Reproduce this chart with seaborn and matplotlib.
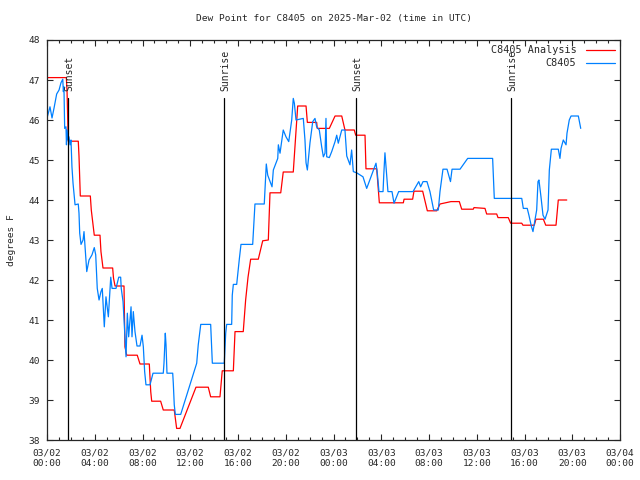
import matplotlib
matplotlib.use("Agg")
import pandas as pd
import seaborn as sns
import matplotlib.pyplot as plt
from matplotlib.ticker import MultipleLocator

# hours since 2025-03-02 00:00 UTC, dew point in degrees F
analysis_hours = [0.0, 1.62, 1.68, 1.78, 2.62, 2.68, 2.79, 3.63, 3.71, 3.96, 4.44, 4.52, 4.69,
                  5.50, 5.57, 5.70, 6.45, 6.53, 6.68, 7.56, 7.79, 8.57, 8.69, 8.77, 9.52, 9.74,
                  10.66, 10.86, 11.14, 12.48, 13.51, 13.71, 14.49, 14.68, 15.61, 15.75, 16.44,
                  16.64, 16.84, 17.06, 17.70, 18.07, 18.54, 18.68, 19.58, 19.79, 20.63, 21.00,
                  21.70, 21.81, 22.59, 22.64, 23.65, 24.13, 24.69, 24.96, 25.74, 25.86, 26.64,
                  26.72, 27.62, 27.84, 29.85, 29.91, 30.63, 30.74, 31.47, 31.86, 32.65, 32.92,
                  33.84, 34.54, 34.74, 35.71, 35.77, 36.69, 36.83, 37.67, 37.78, 38.64, 38.84,
                  39.77, 39.87, 40.82, 40.96, 41.58, 41.78, 42.64, 42.83, 43.54]
analysis_vals = [47.06, 47.06, 46.71, 45.47, 45.47, 45.10, 44.10, 44.10, 43.75, 43.12, 43.12,
                 42.71, 42.30, 42.30, 42.05, 41.85, 41.85, 40.33, 40.12, 40.12, 39.90, 39.90,
                 39.21, 38.97, 38.97, 38.75, 38.75, 38.29, 38.29, 39.32, 39.32, 39.08, 39.08,
                 39.73, 39.73, 40.71, 40.71, 41.50, 42.07, 42.52, 42.52, 42.98, 43.00, 44.18,
                 44.18, 44.70, 44.70, 46.35, 46.35, 45.94, 45.94, 45.79, 45.79, 46.10, 46.10,
                 45.75, 45.75, 45.62, 45.62, 44.78, 44.78, 43.93, 43.93, 44.02, 44.02, 44.22,
                 44.22, 43.73, 43.73, 43.90, 43.96, 43.96, 43.77, 43.77, 43.81, 43.79, 43.65,
                 43.65, 43.56, 43.56, 43.42, 43.42, 43.37, 43.37, 43.52, 43.52, 43.37, 43.37,
                 44.00, 44.00]

obs_hours = [0.03, 0.25, 0.42, 0.59, 0.81, 1.01, 1.17, 1.32, 1.37, 1.42, 1.48, 1.59, 1.63, 1.68,
             1.76, 1.84, 1.93, 2.01, 2.09, 2.18, 2.35, 2.62, 2.68, 2.74, 2.85, 3.02, 3.10, 3.27,
             3.33, 3.52, 3.77, 3.96, 4.08, 4.21, 4.36, 4.52, 4.63, 4.80, 4.94, 5.14, 5.34, 5.45,
             5.78, 6.01, 6.17, 6.22, 6.37, 6.48, 6.62, 6.73, 6.84, 7.04, 7.12, 7.23, 7.37, 7.54,
             7.79, 7.96, 8.07, 8.18, 8.29, 8.63, 8.88, 9.74, 9.80, 9.91, 9.97, 10.05, 10.53,
             10.58, 10.66, 10.75, 11.20, 12.54, 12.67, 12.88, 13.71, 13.85, 14.85, 14.97, 15.05,
             15.47, 15.52, 15.61, 15.89, 16.11, 16.25, 17.23, 17.42, 18.20, 18.37, 18.49, 18.85,
             18.96, 19.33, 19.38, 19.52, 19.79, 20.02, 20.25, 20.50, 20.63, 20.72, 20.86, 21.47,
             21.53, 21.61, 21.70, 21.81, 22.03, 22.26, 22.45, 22.59, 22.81, 23.01, 23.15, 23.29,
             23.37, 23.43, 23.65, 23.85, 24.13, 24.27, 24.40, 24.69, 24.96, 25.11, 25.38, 25.52,
             25.66, 25.94, 26.47, 26.78, 27.56, 27.67, 27.81, 28.15, 28.21, 28.31, 28.56, 28.90,
             29.07, 29.46, 30.66, 31.14, 31.30, 31.50, 31.83, 32.08, 32.39, 32.78, 32.92, 33.17,
             33.51, 33.80, 33.93, 34.60, 35.24, 37.33, 37.47, 39.77, 39.90, 40.23, 40.37, 40.57,
             40.71, 40.82, 41.02, 41.13, 41.21, 41.38, 41.55, 41.72, 41.97, 42.08, 42.25, 42.83,
             42.97, 43.06, 43.25, 43.48, 43.56, 43.75, 43.90, 44.51, 44.71]
obs_vals = [46.08, 46.33, 46.05, 46.30, 46.65, 46.75, 46.93, 47.02, 46.71, 46.83, 45.79, 45.83,
            45.38, 45.75, 45.50, 45.58, 45.38, 45.50, 44.83, 44.42, 43.88, 43.90, 43.67, 43.17,
            42.89, 43.00, 43.21, 42.46, 42.21, 42.50, 42.63, 42.81, 42.63, 41.79, 41.50, 41.71,
            41.79, 40.83, 41.58, 41.08, 42.07, 41.79, 41.79, 42.07, 42.07, 41.79, 41.46, 40.83,
            40.08, 41.17, 40.58, 41.33, 40.58, 41.21, 40.71, 40.35, 40.35, 40.62, 40.33, 39.71,
            39.38, 39.38, 39.67, 39.67, 39.92, 40.67, 40.38, 39.67, 39.67, 39.42, 38.88, 38.64,
            38.64, 39.92, 40.38, 40.89, 40.89, 39.92, 39.92, 40.67, 40.89, 40.89, 41.62, 41.89,
            41.89, 42.52, 42.89, 42.89, 43.90, 43.90, 44.90, 44.62, 44.33, 44.75, 45.04, 45.38,
            45.17, 45.75, 45.58, 45.46, 46.00, 46.54, 46.42, 46.00, 46.04, 45.80, 45.50, 44.93,
            44.75, 45.43, 45.96, 46.04, 45.83, 45.75, 45.33, 45.08, 45.17, 46.04, 45.08, 45.06,
            45.21, 45.46, 45.62, 45.42, 45.75, 45.75, 45.10, 44.88, 45.25, 44.71, 44.68, 44.58,
            44.29, 44.92, 44.67, 44.21, 44.21, 44.62, 45.18, 44.21, 44.21, 43.92, 44.21, 44.21,
            44.46, 44.33, 44.46, 44.46, 44.21, 43.75, 43.75, 44.21, 44.77, 44.77, 44.46, 44.77,
            44.77, 45.04, 45.04, 44.04, 44.04, 43.79, 43.79, 43.62, 43.35, 43.21, 43.40, 43.75,
            44.46, 44.50, 44.08, 43.62, 43.52, 43.75, 44.75, 45.27, 45.27, 45.04, 45.29, 45.50,
            45.38, 45.67, 46.00, 46.10, 46.10, 45.79]

sun_hours = [1.78, 14.85, 25.91, 38.90]
sun_labels = ["Sunset", "Sunrise", "Sunset", "Sunrise"]

tick_hours = list(range(0, 49, 4))
tick_labels = ["03/02\n00:00", "03/02\n04:00", "03/02\n08:00", "03/02\n12:00", "03/02\n16:00",
               "03/02\n20:00", "03/03\n00:00", "03/03\n04:00", "03/03\n08:00", "03/03\n12:00",
               "03/03\n16:00", "03/03\n20:00", "03/04\n00:00"]

sns.set_style("ticks")
plt.rcParams["font.family"] = ["DejaVu Sans Mono"]
plt.rcParams["font.size"] = 6.5

fig = plt.figure(figsize=(6.4, 4.8), dpi=100)
ax = fig.add_axes([47 / 640, 40 / 480, 573 / 640, 400 / 480])

df_a = pd.DataFrame({"hour": analysis_hours, "dewpt": analysis_vals})
df_o = pd.DataFrame({"hour": obs_hours, "dewpt": obs_vals})
sns.lineplot(data=df_a, x="hour", y="dewpt", ax=ax, color="#ff0000", lw=0.9,
             sort=False, estimator=None, label="C8405 Analysis")
sns.lineplot(data=df_o, x="hour", y="dewpt", ax=ax, color="#0080ff", lw=0.9,
             sort=False, estimator=None, label="C8405")

for h, name in zip(sun_hours, sun_labels):
    ax.plot([h, h], [38, 46.55], color="black", lw=0.9)
    ax.text(h + 0.12, 46.72, name, rotation=90, ha="center", va="bottom", fontsize=7)

ax.set_xlim(0, 48)
ax.set_ylim(38, 48)
ax.set_xticks(tick_hours)
ax.set_xticklabels(tick_labels)
ax.xaxis.set_minor_locator(MultipleLocator(1))
ax.set_yticks(range(38, 49))
ax.tick_params(which="both", direction="in", top=True, right=True, width=0.8, labelsize=6.8)
ax.tick_params(which="major", length=4)
ax.tick_params(which="minor", length=2)
ax.tick_params(axis="x", pad=6)
ax.tick_params(axis="y", pad=5)
for sp in ax.spines.values():
    sp.set_linewidth(0.9)

ax.set_xlabel("")
ax.set_ylabel("degrees F", fontsize=6.8, labelpad=9)
ax.set_title("Dew Point for C8405 on 2025-Mar-02 (time in UTC)", fontsize=6.8, pad=14)

ax.legend(loc="upper right", frameon=False, markerfirst=False, fontsize=7.3,
          handlelength=2.9, handletextpad=0.9, labelspacing=0.3,
          borderaxespad=0.2, borderpad=0.3)

fig.savefig("out.png", dpi=100)
